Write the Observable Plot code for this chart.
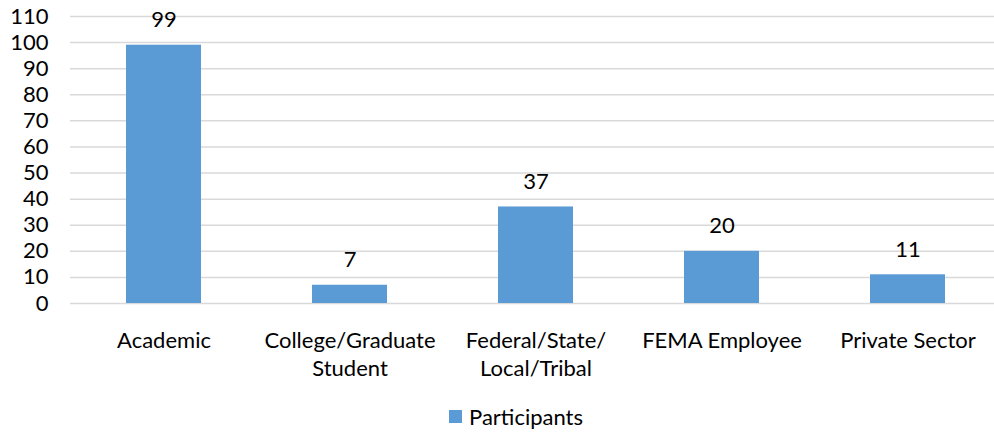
<!DOCTYPE html>
<html>
<head>
<meta charset="utf-8">
<script src="https://cdn.jsdelivr.net/npm/d3@7"></script>
<script src="https://cdn.jsdelivr.net/npm/@observablehq/plot@0.6"></script>
<style>
  html, body { margin: 0; padding: 0; background: #fff; }
  #chart svg { display: block; }
  #legend { margin-top: 10px; padding-left: 60px; }
  #legend > div { justify-content: center; font-family: Lato, sans-serif !important; font-size: 22px !important; color: #000 !important; }
  #legend > div * { font-family: Lato, sans-serif !important; font-size: 22px !important; }
  #legend svg { margin-right: 7px !important; }
</style>
</head>
<body>
<div id="chart"></div>
<div id="legend"></div>
<script>
const categories = ["Academic", "College/Graduate\nStudent", "Federal/State/\nLocal/Tribal", "FEMA Employee", "Private Sector"];
const participants = [99, 7, 37, 20, 11];
const yTicks = [0, 10, 20, 30, 40, 50, 60, 70, 80, 90, 100, 110];
const seriesName = "Participants";
const barColor = "#5B9BD5";

const data = categories.map((c, i) => ({category: c, value: participants[i]}));

const chart = Plot.plot({
  width: 994,
  height: 390,
  marginTop: 16,
  marginBottom: 87,
  marginLeft: 70,
  marginRight: 0,
  style: {fontFamily: "Lato, sans-serif", fontSize: "22px", color: "#000", background: "#fff"},
  x: {type: "band", domain: categories, range: [69.3, 1001.3], paddingInner: 0.598, paddingOuter: 0.299, label: null},
  y: {domain: [0, 110], label: null},
  marks: [
    Plot.gridY(yTicks, {stroke: "#d9d9d9", strokeOpacity: 1, strokeWidth: 1.5}),
    Plot.barY(data, {x: "category", y: "value", fill: barColor}),
    Plot.text(data, {x: "category", y: "value", text: d => String(d.value), dy: -25, lineAnchor: "middle", fontSize: 22, fill: "#000"}),
    Plot.axisY(yTicks, {tickSize: 0, tickPadding: 22, fontSize: 22, label: null, fill: "#000"}),
    Plot.axisX({tickSize: 0, tickPadding: 24, fontSize: 22, lineHeight: 1.28, label: null, fill: "#000"})
  ]
});
document.getElementById("chart").appendChild(chart);

const legend = Plot.legend({color: {type: "ordinal", domain: [seriesName], range: [barColor]}, swatchSize: 13});
document.getElementById("legend").appendChild(legend);
</script>
</body>
</html>
